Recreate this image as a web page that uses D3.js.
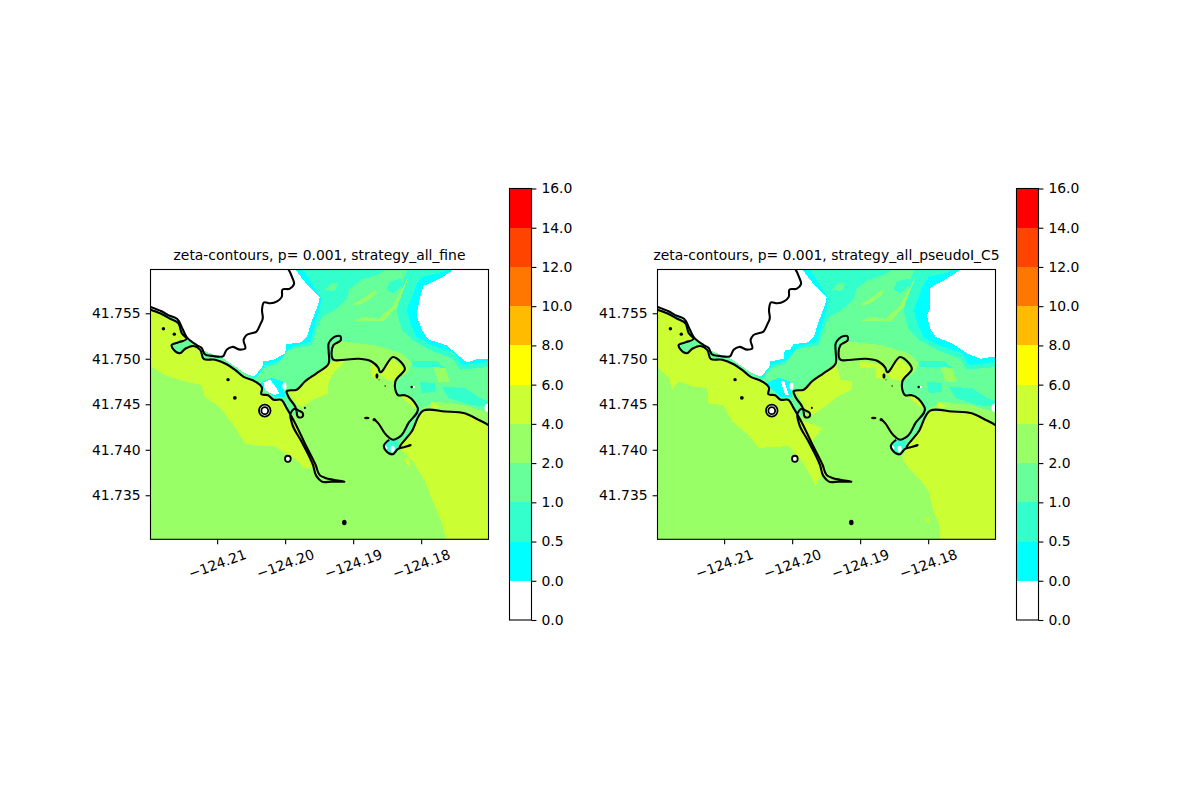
<!DOCTYPE html>
<html>
<head>
<meta charset="utf-8">
<script src="https://cdn.jsdelivr.net/npm/d3@7"></script>
<style>
  body { margin: 0; background: #fff; }
  text { font-family: "DejaVu Sans", sans-serif; fill: #000; }
</style>
</head>
<body>
<div id="canvas"></div>
<script>
// all outlines are [east, north] in thousandths of a degree from this corner
const lon0 = -124.22;
const lat0 = 41.73;
const lonDomain = [-124.2198, -124.1701];
const latDomain = [41.73016, 41.75981];

const lonTicks = [-124.21, -124.2, -124.19, -124.18];
const latTicks = [41.735, 41.74, 41.745, 41.75, 41.755];

const colorLabels = ["0.0", "0.0", "0.5", "1.0", "2.0", "4.0", "6.0", "8.0", "10.0", "12.0", "14.0", "16.0"];
const bandColors = ["#ffffff", "#00ffff", "#33ffcc", "#66ff99", "#99ff66", "#ccff33", "#ffff00", "#ffbb00", "#ff7700", "#ff4400", "#ff0000"];

const titles = ["zeta-contours, p= 0.001, strategy_all_fine", "zeta-contours, p= 0.001, strategy_all_pseudoI_C5"];

// black contour lines, same in both panels
const northShore = [[20.4,29.9],[20.5,29.8],[21.0,29.0],[21.3,28.2],[20.7,27.7],[19.6,27.6],[19.5,26.8],[18.8,26.3],[17.8,26.1],[16.9,26.2],[16.6,25.4],[16.7,24.4],[16.3,23.7],[15.8,23.0],[14.3,22.6],[13.9,22.1],[14.1,21.1],[13.4,21.0],[12.2,21.3],[11.4,21.0],[10.9,20.3],[9.4,20.3],[8.2,20.5],[7.7,21.2],[7.0,21.5],[5.5,22.4],[4.9,23.3],[4.1,24.4],[2.8,24.8],[1.9,25.2],[0.9,25.5],[0.1,25.7],[-0.4,25.7]];
const southShore = [[-0.4,25.5],[0.1,25.4],[1.6,25.0],[3.1,24.4],[4.3,23.9],[4.8,22.8],[5.5,22.2],[4.3,21.8],[3.3,21.5],[3.6,21.0],[4.5,20.6],[5.3,21.1],[6.5,21.4],[7.5,21.0],[8.0,20.0],[9.7,19.9],[11.4,19.4],[12.6,18.8],[13.9,18.0],[15.6,17.5],[16.6,16.8],[16.5,16.1],[17.5,16.0],[18.3,15.5],[19.4,15.5],[20.2,14.6],[21.2,13.3],[22.9,10.7],[24.5,8.3],[25.1,7.2],[25.9,6.9],[27.1,6.7],[28.7,6.5],[26.8,6.5],[25.4,6.5],[24.6,7.1],[24.1,8.3],[22.4,10.9],[21.0,12.9],[20.8,14.0],[21.5,14.5],[22.0,14.3],[22.6,14.0],[22.5,13.6],[21.9,13.6],[21.7,14.2]];
const northJetty = [[21.7,14.2],[21.5,14.7],[20.5,15.8],[20.2,16.4],[21.7,16.6],[22.9,17.5],[24.6,18.4],[26.4,19.5],[26.4,20.8],[26.4,21.7],[27.6,22.5],[28.1,22.5],[28.2,22.1],[27.1,21.5],[27.1,19.9],[28.8,19.9],[30.8,20.0],[32.7,19.7],[33.7,19.0],[33.9,18.6],[35.9,20.2],[37.6,18.9],[36.2,17.5],[36.2,16.6],[36.6,16.0],[37.6,16.0],[39.3,14.9],[39.5,14.6],[38.1,12.9],[37.1,11.6],[36.6,11.3],[35.9,11.1],[34.9,11.6],[33.7,12.9],[33.2,13.3]];
const southJetty = [[35.3,11.1],[34.5,10.4],[34.8,9.9],[35.8,9.5],[36.6,10.1],[38.1,10.4],[38.4,10.5],[36.9,10.2],[38.6,12.0],[40.3,14.3],[43.5,14.2],[46.4,14.0],[48.4,13.3],[49.9,12.7],[50.4,12.4]];
const contourLines = [northShore, southShore, northJetty, southJetty];

// small islands: east, north, radius east, radius north
const solidIslets = [[2.1,23.3,0.25,0.18],[3.7,22.7,0.25,0.18],[11.6,17.7,0.25,0.18],[12.6,15.7,0.28,0.2],[28.7,2.0,0.33,0.3],[22.9,14.6,0.15,0.12],[32.0,13.5,0.4,0.14],[33.1,13.3,0.25,0.18],[33.5,18.1,0.22,0.3],[38.6,16.9,0.18,0.14],[33.8,17.7,0.08,0.06],[34.7,17.0,0.1,0.08]];
const ringIslets = [[17.0,14.3,0.85,0.65],[17.0,14.3,0.5,0.38],[20.4,9.0,0.42,0.34]];

// filled bands, painted from the lowest level up
const wetLeft = [[21.3,30.0],[45.2,30.0],[42.8,28.8],[40.3,28.0],[39.7,26.3],[39.3,24.8],[40.1,23.2],[41.1,22.1],[43.7,21.5],[45.7,20.2],[46.7,19.6],[48.4,20.0],[50.2,20.0],[50.2,0],[-0.8,0],[-0.8,25.6],[2.3,25.0],[4.3,24.2],[5.5,22.4],[7.7,21.0],[11.2,19.9],[14.1,18.4],[15.3,18.0],[16.6,19.0],[16.8,19.7],[18.3,19.9],[20.0,20.6],[20.2,21.6],[22.4,21.8],[23.2,22.4],[23.9,24.1],[24.9,26.1],[25.1,26.8],[22.7,28.6]];
const wetRight = [[21.3,30.0],[45.2,30.0],[42.5,28.7],[40.3,27.8],[40.3,25.5],[39.8,24.8],[40.3,23.3],[41.1,22.4],[43.5,21.7],[45.7,20.6],[47.7,20.0],[50.2,20.3],[50.2,0],[-0.8,0],[-0.8,25.6],[2.3,25.0],[4.3,24.2],[5.5,22.4],[7.7,21.0],[11.2,19.9],[14.1,18.4],[15.3,18.0],[16.6,19.0],[16.8,19.7],[18.8,20.0],[18.9,21.0],[19.7,21.0],[20.2,21.6],[22.4,21.8],[23.2,22.4],[23.9,24.1],[24.9,26.1],[25.1,26.8],[22.7,28.6]];
const aquaArea = [[22.4,30.0],[44.7,30.0],[42.5,29.4],[40.1,29.0],[39.3,28.1],[37.9,25.4],[38.4,23.9],[39.3,22.4],[41.5,21.5],[45.0,20.6],[46.0,19.3],[50.2,19.7],[50.2,0],[-0.8,0],[-0.8,25.5],[2.3,25.0],[4.3,24.2],[5.5,22.4],[7.7,21.0],[11.2,19.9],[14.1,18.4],[15.6,18.0],[17.0,19.3],[19.5,19.9],[21.0,21.3],[23.7,21.9],[24.4,23.7],[25.1,25.5],[25.4,26.6]];
const greenArea = [[35.2,30.0],[38.1,30.0],[37.4,28.8],[36.9,27.0],[36.4,25.2],[37.1,23.3],[38.6,22.1],[41.5,20.9],[44.7,20.0],[45.7,18.8],[50.2,19.1],[50.2,0],[-0.8,0],[-0.8,25.5],[2.3,25.0],[4.3,24.2],[5.5,22.4],[7.7,21.0],[11.2,19.9],[14.1,18.4],[15.6,17.7],[17.0,19.0],[19.0,19.5],[20.5,21.0],[23.9,21.5],[24.6,23.2],[25.4,24.6],[27.6,25.5],[29.0,26.5],[29.5,27.7],[31.3,28.7],[33.5,29.2]];
const greenBlob = [[25.9,27.6],[26.8,28.3],[27.8,28.3],[27.3,27.4]];
const aquaPatches = [
  [[34.9,27.6],[35.4,28.5],[37.1,28.8],[37.4,28.1],[35.9,27.2]],
  [[38.6,19.7],[42.5,19.7],[43.5,19.0],[41.5,19.1],[38.8,19.1]],
  [[39.8,17.5],[42.0,17.3],[42.0,16.4],[40.1,16.2]],
  [[43.0,16.9],[46.4,16.8],[48.4,15.8],[49.9,15.3],[49.9,14.7],[47.4,14.9],[44.0,15.7]],
  [[34.9,11.1],[36.6,11.1],[36.6,10.0],[35.4,9.6],[34.7,10.2]],
  [[25.1,7.2],[26.8,6.7],[25.6,6.6]]
];
const cyanPatch = [[16.1,17.3],[18.0,17.9],[19.7,17.5],[20.0,15.8],[18.3,15.8]];
const limeArea = [[-0.8,0],[50.2,0],[50.2,12.7],[46.4,14.0],[43.5,14.2],[40.3,14.3],[38.6,12.0],[36.9,10.2],[35.8,9.5],[34.8,9.9],[34.5,10.4],[35.3,11.1],[35.9,11.1],[36.6,11.3],[37.1,11.6],[38.1,12.9],[39.5,14.6],[39.3,14.9],[37.6,16.0],[36.6,16.0],[36.2,16.6],[36.2,17.5],[36.6,17.7],[38.1,18.6],[38.6,19.5],[37.1,20.6],[33.2,21.5],[29.5,21.8],[27.1,21.8],[27.1,19.9],[26.4,19.5],[24.6,18.4],[22.9,17.5],[21.7,16.6],[20.2,16.4],[20.5,15.8],[21.5,14.7],[22.0,14.3],[21.9,13.6],[20.8,14.0],[20.2,14.6],[19.4,15.5],[18.3,15.5],[17.5,16.0],[16.5,16.1],[16.6,16.8],[15.6,17.5],[13.9,18.0],[12.6,18.8],[11.4,19.4],[9.7,19.9],[8.0,20.0],[7.5,21.0],[6.5,21.4],[5.3,21.1],[4.5,20.6],[3.6,21.0],[3.3,21.5],[4.3,21.8],[5.5,22.2],[4.8,22.8],[4.3,23.9],[3.1,24.4],[1.6,25.0],[0.1,25.4],[-0.8,25.4]];
const limePatches = [
  [[30.0,26.0],[31.7,26.7],[33.5,27.7],[33.2,27.0],[31.7,26.2],[30.3,25.8]],
  [[29.8,24.1],[31.7,24.6],[33.7,24.4],[35.7,25.7],[37.9,28.7],[38.1,28.8],[36.4,25.7],[34.4,24.1],[32.7,24.1]],
  [[41.8,19.1],[43.5,19.0],[44.2,17.5],[42.5,17.5]],
  [[40.1,14.5],[42.0,15.3],[46.4,14.9],[50.2,14.0],[50.2,12.7],[46.4,14.0],[43.5,14.2],[40.3,14.3]]
];

const coastEdge = [[-0.8,25.4],[0.1,25.4],[1.6,25.0],[3.1,24.4],[4.3,23.9],[4.8,22.8],[5.5,22.2],[4.3,21.8],[3.3,21.5],[3.6,21.0],[4.5,20.6],[5.3,21.1],[6.5,21.4],[7.5,21.0],[8.0,20.0],[9.7,19.9],[11.4,19.4],[12.6,18.8],[13.9,18.0],[15.6,17.5],[16.6,16.8],[16.5,16.1],[17.5,16.0],[18.3,15.5],[19.4,15.5],[20.2,14.6],[21.2,13.3],[22.9,10.7],[24.5,8.3]];
const yellowWestLeft = coastEdge.concat([[24.4,8.0],[22.7,8.0],[21.7,8.9],[20.0,9.6],[18.5,10.4],[16.3,10.4],[14.1,10.7],[12.6,12.5],[10.4,14.7],[8.2,15.8],[7.7,17.1],[5.3,17.5],[2.3,18.2],[0.1,19.3],[-0.8,19.6]]);
const yellowWestRight = coastEdge.concat([[24.6,7.6],[23.4,6.0],[22.7,7.2],[21.5,8.7],[19.5,10.4],[15.1,10.2],[13.6,11.6],[11.2,13.1],[9.9,14.9],[7.7,15.1],[7.5,16.8],[5.8,16.9],[3.3,17.5],[2.3,16.6],[1.9,17.9],[0.1,19.1],[-0.8,19.5]]);
const yellowMidLeft = [[20.6,16.3],[21.7,16.5],[22.9,17.4],[24.6,18.3],[26.4,19.4],[27.1,19.7],[28.8,19.7],[27.1,18.4],[26.4,17.5],[26.3,16.2],[24.1,15.5],[22.5,14.7],[21.5,15.1]];
const yellowMidRight = [[20.6,16.3],[21.7,16.5],[22.9,17.4],[24.6,18.3],[26.4,19.4],[26.6,19.1],[27.1,17.7],[28.8,17.5],[28.8,16.6],[26.6,15.8],[25.1,14.9],[23.4,14.0],[22.4,13.8],[21.5,15.1]];
const yellowEastEdge = [[40.3,14.3],[43.5,14.2],[46.4,14.0],[48.4,13.3],[50.2,12.6],[50.2,0]];
const yellowEastLeft = yellowEastEdge.concat([[43.7,0],[43.0,2.1],[41.5,4.7],[40.6,6.5],[38.8,8.7],[37.1,10.0],[36.9,10.2],[38.6,12.0]]);
const yellowEastRight = yellowEastEdge.concat([[41.8,0],[41.5,2.1],[40.8,3.2],[40.1,5.4],[38.6,6.9],[37.1,8.0],[36.2,9.1],[36.9,10.2],[38.6,12.0]]);
const yellowBox = [[33.7,18.4],[35.9,20.0],[37.5,18.9],[36.1,17.5],[34.4,17.9]];
const yellowBits = [
  [[36.9,15.9],[37.9,16.0],[39.3,14.9],[39.0,14.6]],
  [[41.5,15.3],[42.8,14.7],[41.5,14.5]]
];
const yellowBitsLeft = [
  [[32.7,19.5],[33.6,18.9],[33.8,17.7],[32.8,18.0],[32.5,19.0]],
  [[37.4,9.1],[38.1,9.1],[38.5,8.2],[37.9,8.3]]
];
const yellowBitsRight = [
  [[30.0,19.7],[33.4,19.3],[33.7,17.7],[32.4,17.9],[32.2,19.0],[30.0,19.0]],
  [[21.2,13.3],[24.4,12.4],[22.9,10.9]],
  [[39.7,2.5],[40.1,2.5],[40.1,2.1],[39.7,2.1]]
];

const whiteHolesLeft = [[[16.8,17.4],[17.8,17.7],[18.5,17.0],[19.2,16.2],[18.3,16.0],[17.0,16.6]]];
const whiteHolesRight = [[[18.3,17.5],[18.8,17.6],[19.5,16.0],[19.0,16.0]]];
const whiteSpots = [[19.9,17.0,0.3,0.4],[49.8,14.6,0.5,0.45],[38.9,16.9,0.2,0.12],[34.7,10.2,0.35,0.2],[35.8,10.1,0.3,0.35]];

const layers = (wet, yellowWest, yellowMid, yellowEast, yellowExtra, holes) => [
  ...[[wet, 1], [aquaArea, 2], [greenArea, 3], [greenBlob, 3]],
  ...aquaPatches.map((p) => [p, 2]),
  [cyanPatch, 1],
  [limeArea, 4],
  ...limePatches.map((p) => [p, 4]),
  ...[yellowWest, yellowMid, yellowEast, yellowBox].map((p) => [p, 5]),
  ...yellowBits.concat(yellowExtra).map((p) => [p, 5]),
  ...holes.map((p) => [p, 0]),
];

const panelData = [
  { left: 150.5, layers: layers(wetLeft, yellowWestLeft, yellowMidLeft, yellowEastLeft, yellowBitsLeft, whiteHolesLeft) },
  { left: 657.5, layers: layers(wetRight, yellowWestRight, yellowMidRight, yellowEastRight, yellowBitsRight, whiteHolesRight) },
];

const svgWidth = 1200;
const svgHeight = 800;
const svg = d3.select("#canvas").append("svg").attr("width", svgWidth).attr("height", svgHeight);

const marginTop = 269.5;
const iwidth = 338;
const iheight = 269.8;
const tickSize = 4.9;

const x = d3.scaleLinear().domain(lonDomain).range([0, iwidth]);
const y = d3.scaleLinear().domain(latDomain).range([iheight, 0]);
const px = (p) => x(lon0 + p[0] / 1000);
const py = (p) => y(lat0 + p[1] / 1000);

const fillPath = d3.line().x(px).y(py);
const contourPath = d3.line().x(px).y(py).curve(d3.curveCatmullRom.alpha(1));

const styleAxis = (a) => {
  a.select(".domain").remove();
  a.selectAll("line").attr("stroke", "#000").attr("stroke-width", 1.1);
  a.selectAll("text").style("font-size", "13.9px");
};

panelData.forEach((panel, i) => {
  const g = svg.append("g").attr("transform", `translate(${panel.left}, ${marginTop})`);

  g.append("clipPath").attr("id", `clip${i}`)
    .append("rect").attr("width", iwidth).attr("height", iheight);

  const map = g.append("g").attr("clip-path", `url(#clip${i})`);

  map.selectAll("path.band").data(panel.layers).enter().append("path")
    .attr("class", "band")
    .attr("d", (d) => fillPath(d[0]) + "Z")
    .attr("fill", (d) => bandColors[d[1]])
    .attr("shape-rendering", "crispEdges");

  const ellipse = (sel, cls) => sel
    .attr("class", cls)
    .attr("cx", px)
    .attr("cy", py)
    .attr("rx", (d) => Math.abs(x(lon0 + d[2] / 1000) - x(lon0)))
    .attr("ry", (d) => Math.abs(y(lat0 + d[3] / 1000) - y(lat0)));

  ellipse(map.selectAll("ellipse.spot").data(whiteSpots).enter().append("ellipse"), "spot")
    .attr("fill", "#fff");

  map.selectAll("path.contour").data(contourLines).enter().append("path")
    .attr("class", "contour")
    .attr("d", contourPath)
    .attr("fill", "none")
    .attr("stroke", "#000")
    .attr("stroke-width", 2.1)
    .attr("stroke-linejoin", "round");

  ellipse(map.selectAll("ellipse.islet").data(solidIslets).enter().append("ellipse"), "islet")
    .attr("fill", "#000");

  ellipse(map.selectAll("ellipse.ring").data(ringIslets).enter().append("ellipse"), "ring")
    .attr("fill", "#fff")
    .attr("stroke", "#000")
    .attr("stroke-width", 1.8);

  g.append("rect")
    .attr("width", iwidth).attr("height", iheight)
    .attr("fill", "none").attr("stroke", "#000").attr("stroke-width", 1.1);

  const xAxis = g.append("g")
    .attr("transform", `translate(0, ${iheight})`)
    .call(d3.axisBottom(x).tickValues(lonTicks).tickFormat(d3.format(".2f")).tickSize(tickSize).tickPadding(4))
    .call(styleAxis);
  xAxis.selectAll("text")
    .attr("text-anchor", "middle")
    .attr("dy", null)
    .attr("y", 0)
    .attr("transform", "translate(0, 25.5) rotate(-20)")
    .attr("dominant-baseline", "middle");

  g.append("g")
    .call(d3.axisLeft(y).tickValues(latTicks).tickFormat(d3.format(".3f")).tickSize(tickSize).tickPadding(5))
    .call(styleAxis);

  g.append("text")
    .attr("x", iwidth / 2)
    .attr("y", -9.5)
    .attr("text-anchor", "middle")
    .style("font-size", "13.9px")
    .text(titles[i]);

  // colour bar
  const cbar = svg.append("g").attr("transform", `translate(${panel.left + 359}, 0)`);
  const cbarWidth = 22;
  const c = d3.scaleLinear().domain([0, bandColors.length]).range([620, 188.5]);

  cbar.selectAll("rect").data(bandColors).enter().append("rect")
    .attr("y", (d, k) => c(k + 1))
    .attr("width", cbarWidth)
    .attr("height", (d, k) => c(k) - c(k + 1))
    .attr("fill", (d) => d)
    .attr("shape-rendering", "crispEdges");

  cbar.append("rect")
    .attr("y", c(bandColors.length))
    .attr("width", cbarWidth)
    .attr("height", c(0) - c(bandColors.length))
    .attr("fill", "none").attr("stroke", "#000").attr("stroke-width", 1.1);

  cbar.append("g")
    .attr("transform", `translate(${cbarWidth}, 0)`)
    .call(d3.axisRight(c).tickValues(d3.range(colorLabels.length)).tickFormat((k) => colorLabels[k]).tickSize(tickSize).tickPadding(5))
    .call(styleAxis);
});
</script>
</body>
</html>
